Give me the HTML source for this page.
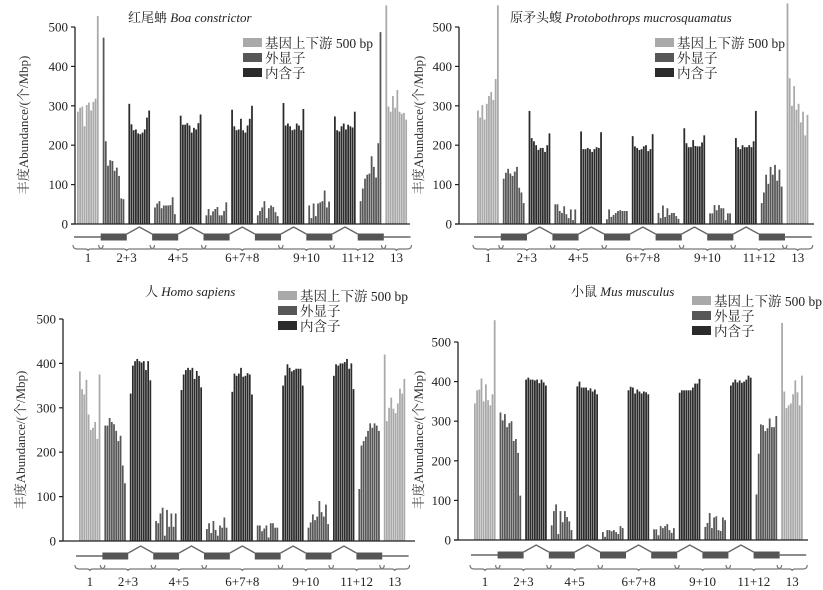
<!DOCTYPE html>
<html><head><meta charset="utf-8">
<style>
html,body{margin:0;padding:0;background:#fff;}
svg{display:block;font-family:"Liberation Serif","Noto Serif CJK SC","Noto Sans CJK SC",serif;}
</style></head>
<body>
<svg id="fig" width="823" height="590" viewBox="0 0 823 590" xmlns="http://www.w3.org/2000/svg"></svg>
<script>
const groupLabels = ["1","2+3","4+5","6+7+8","9+10","11+12","13"];
const groupTypes = ["f","e","i","e","i","e","i","e","i","e","i","e","f"];
const yTicks = [0,100,200,300,400,500];
const legendLabels = ["基因上下游 500 bp","外显子","内含子"];
const boaValues = [
[285,295,298,248,302,308,288,310,318,528],
[473,210,148,162,160,135,143,122,65,63],
[305,253,238,240,230,228,232,240,270,288],
[42,52,58,40,47,47,47,48,68,25],
[275,252,252,256,250,232,244,240,256,278],
[22,38,22,32,38,43,22,22,33,55],
[290,248,238,240,267,238,232,250,267,300],
[22,33,42,58,15,40,47,43,30,20],
[307,250,255,248,238,240,255,250,238,292],
[47,15,52,20,52,55,58,85,42,57],
[273,238,235,248,255,240,252,248,245,285],
[58,90,115,125,128,172,145,118,205,487],
[555,298,285,325,295,340,285,280,282,265]];
const protoValues = [
[288,270,302,265,305,325,335,315,368,555],
[115,130,140,128,122,133,145,92,80,53],
[287,218,210,200,188,193,193,183,200,230],
[50,50,33,28,45,25,15,37,10,37],
[235,190,190,193,190,183,190,195,193,233],
[12,37,18,23,28,33,35,33,33,33],
[223,197,193,188,190,197,200,185,190,228],
[28,15,47,18,40,23,28,28,20,13],
[243,205,195,195,213,198,197,197,207,225],
[27,27,48,35,48,40,40,10,27,27],
[218,195,190,200,195,195,200,195,210,287],
[53,80,125,102,145,125,150,110,138,95],
[560,370,300,350,290,305,258,285,225,277]];
const humanValues = [
[382,342,330,363,285,250,255,268,230,375],
[260,260,277,268,263,248,225,237,170,130],
[332,395,405,410,405,402,405,385,405,362],
[45,40,62,75,12,70,32,62,32,62],
[340,375,385,390,385,390,365,383,372,346],
[27,40,18,45,25,12,35,30,53,30],
[336,377,372,377,390,370,372,378,375,330],
[35,35,22,28,35,8,40,40,30,30],
[350,373,398,390,382,385,388,388,388,350],
[30,42,60,47,55,90,65,55,82,38],
[372,398,395,400,400,403,410,388,400,342],
[117,215,225,235,248,265,255,265,260,248],
[420,270,300,323,298,288,310,343,332,365]];
const mouseValues = [
[345,378,380,408,350,393,353,340,368,555],
[322,302,318,285,295,300,250,255,220,112],
[405,410,405,405,403,405,396,405,398,390],
[37,73,90,15,73,45,73,58,47,25],
[388,400,385,385,385,378,383,375,380,368],
[20,8,25,25,22,25,20,15,35,30],
[378,387,385,370,380,375,370,375,373,368],
[27,27,12,35,30,35,40,25,18,30],
[372,378,378,378,378,378,385,395,395,407],
[33,43,68,30,57,60,25,23,57,50],
[390,398,405,398,403,397,400,405,415,410],
[115,218,292,290,275,282,307,285,285,313],
[548,375,333,340,345,368,403,373,340,415]];

const NS="http://www.w3.org/2000/svg";
const svg=document.getElementById('fig');
const colors={f:"#a9a9a9",e:"#575757",i:"#2b2b2b"};
function mk(tag,attrs,parent){const el=document.createElementNS(NS,tag);for(const k in attrs)el.setAttribute(k,attrs[k]);(parent||svg).appendChild(el);return el;}

const panels=[
 {name:"boa",vals:boaValues,ax:75,y0:224,y500:27,gx:77,sp:25.7,dy:237,by:245,ly:262,axEnd:410,top:2,
  title:["红尾蚺 ","Boa constrictor"],tx:128,ty:22,lx:243,lyy:43,ylx:28,yly:125},
 {name:"protobothrops",vals:protoValues,ax:459,y0:224,y500:27,gx:477,sp:25.8,dy:237,by:245,ly:262,axEnd:814,top:2,
  title:["原矛头蝮 ","Protobothrops mucrosquamatus"],tx:510,ty:22,lx:655,lyy:43,ylx:423,yly:125},
 {name:"human",vals:humanValues,ax:63,y0:541,y500:319,gx:79,sp:25.4,dy:556,by:565,ly:586,axEnd:415,top:282,
  title:["人 ","Homo sapiens"],tx:145,ty:296,lx:278,lyy:296,ylx:25,yly:440},
 {name:"mouse",vals:mouseValues,ax:458,y0:540,y500:342,gx:474,sp:25.6,dy:555,by:565,ly:586,axEnd:808,top:282,
  title:["小鼠 ","Mus musculus"],tx:571,ty:296,lx:692,lyy:301,ylx:423,yly:440}
];

panels.forEach(p=>{
  const g=mk('g',{});
  
  
  const ys=v=>p.y0-(p.y0-p.y500)*v/500;
  const gw=p.sp*0.86;
  const groupX=i=>p.gx+i*p.sp;
  p.vals.forEach((arr,gi)=>{
    const bw=gw/arr.length;
    arr.forEach((v,bi)=>{
      const top=Math.max(ys(v),p.top);
      const r=mk('rect',{x:(groupX(gi)+bi*bw).toFixed(2),y:top.toFixed(2),width:(bw*0.8).toFixed(2),height:(p.y0-top).toFixed(2),fill:colors[groupTypes[gi]]},g);
      
      
    });
  });
  const ya=mk('line',{x1:p.ax,y1:p.y500,x2:p.ax,y2:p.y0,stroke:"#222","stroke-width":1.3},g);
  
  
  const xa=mk('line',{x1:p.ax-4,y1:p.y0,x2:p.axEnd,y2:p.y0,stroke:"#222","stroke-width":1.3},g);
  
  
  yTicks.forEach(t=>{
    const y=ys(t);
    mk('line',{x1:p.ax-4,y1:y,x2:p.ax,y2:y,stroke:"#222","stroke-width":1.2},g);
    const tx=mk('text',{x:p.ax-7,y:y+4.5,"text-anchor":"end","font-size":13,fill:"#222"},g);
    tx.textContent=t;
    
    
  });
  const yl=mk('text',{x:p.ylx,y:p.yly,"text-anchor":"middle","font-size":13,fill:"#333",transform:`rotate(-90 ${p.ylx} ${p.yly})`},g);
  yl.textContent="丰度Abundance/(个/Mbp)";
  
  
  const dg=mk('g',{stroke:"#666","stroke-width":1.4,fill:"none"},g);
  
  
  groupTypes.forEach((t,gi)=>{
    const x1=groupX(gi), x2=x1+gw;
    if(t==='f'){mk('line',{x1:x1-3,y1:p.dy,x2:x2+3,y2:p.dy},dg);}
    else if(t==='e'){mk('rect',{x:x1-2,y:p.dy-3.5,width:gw+4,height:7,fill:"#555",stroke:"none"},dg);}
    else {const a=groupX(gi-1)+gw+2,b=groupX(gi+1)-2,m=(x1+x2)/2;mk('polyline',{points:`${a},${p.dy-3} ${m},${p.dy-10} ${b},${p.dy-3}`},dg);}
  });
  const spans=[[0,0],[1,2],[3,4],[5,7],[8,9],[10,11],[12,12]];
  spans.forEach((s,k)=>{
    const a=groupX(s[0])-4,b=groupX(s[1])+gw+4,m=(a+b)/2,y=p.by;
    const br=mk('path',{d:`M${a},${y} Q${a},${y+4} ${a+4},${y+4} L${m-3},${y+4} Q${m},${y+4} ${m},${y+6} Q${m},${y+4} ${m+3},${y+4} L${b-4},${y+4} Q${b},${y+4} ${b},${y}`,fill:"none",stroke:"#777","stroke-width":1.2},g);
    
    
    const lt=mk('text',{x:m,y:p.ly,"text-anchor":"middle","font-size":13,fill:"#222"},g);
    lt.textContent=groupLabels[k];
    
    
  });
  const tt=mk('text',{x:p.tx,y:p.ty,"font-size":13,fill:"#222"},g);
  const s1=mk('tspan',{},tt);s1.textContent=p.title[0];
  const s2=mk('tspan',{"font-style":"italic"},tt);s2.textContent=p.title[1];
  
  
  const lg=mk('g',{},g);
  
  
  ["f","e","i"].forEach((c,k)=>{
    const y=p.lyy+k*15;
    mk('rect',{x:p.lx,y:y-5,width:19,height:9,fill:colors[c]},lg);
    const lt=mk('text',{x:p.lx+22,y:y+5,"font-size":13.5,fill:"#222"},lg);
    lt.textContent=legendLabels[k];
    
    
  });
});
</script>
</body></html>
